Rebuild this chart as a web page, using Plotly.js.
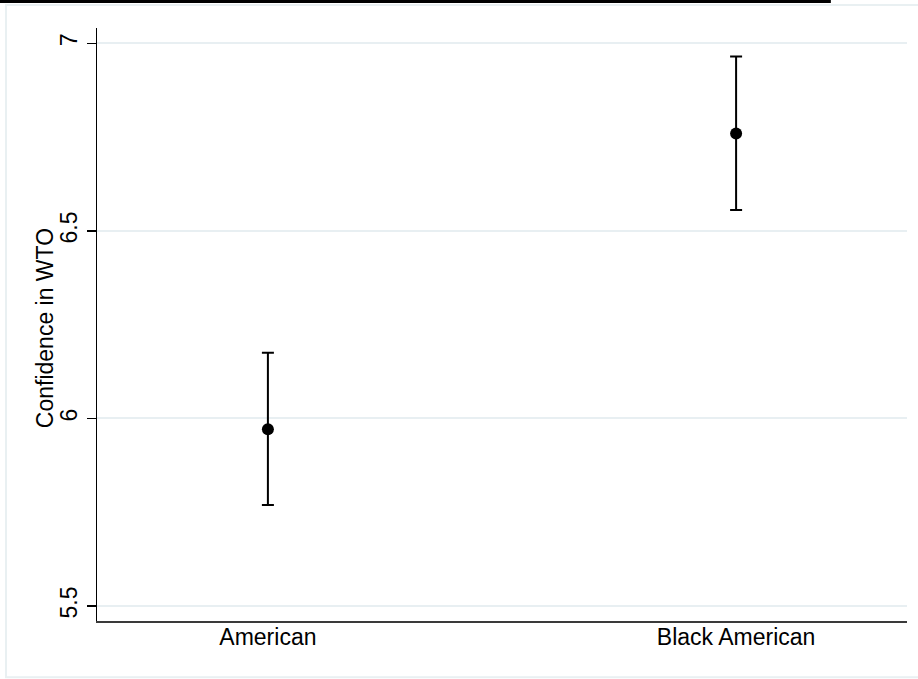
<!DOCTYPE html>
<html>
<head>
<meta charset="utf-8">
<script src="https://cdn.plot.ly/plotly-3.0.1.min.js"></script>
<style>
  html, body { margin: 0; padding: 0; background: #ffffff; }
  #chart { width: 918px; height: 679px; }
</style>
</head>
<body>
<div id="chart"></div>
<script>
// Group means of confidence in the WTO with 95% confidence intervals
const categories = ['American', 'Black American'];
const means = [5.971, 6.760];
const ciLow = [5.769, 6.556];
const ciHigh = [6.175, 6.965];
const yTicks = [5.5, 6, 6.5, 7];
const yTickText = ['5.5', '6', '6.5', '7'];
const yTitle = 'Confidence in WTO';

const errPlus = ciHigh.map((h, i) => h - means[i]);
const errMinus = ciLow.map((l, i) => means[i] - l);

const font = 'Liberation Sans, Arial, Helvetica, sans-serif';
const gridColor = '#e8eff2';
const fs = 23;

const trace = {
  type: 'scatter',
  mode: 'markers',
  x: categories,
  y: means,
  marker: { color: '#000000', size: 12, symbol: 'circle' },
  error_y: {
    type: 'data',
    symmetric: false,
    array: errPlus,
    arrayminus: errMinus,
    color: '#000000',
    thickness: 2,
    width: 6
  },
  hoverinfo: 'skip',
  showlegend: false
};

const layout = {
  width: 918,
  height: 679,
  margin: { l: 97, r: 11, t: 28, b: 58, pad: 0 },
  paper_bgcolor: '#ffffff',
  plot_bgcolor: '#ffffff',
  font: { family: font, size: fs, color: '#000000' },
  xaxis: {
    type: 'category',
    range: [-0.365, 1.365],
    showgrid: false,
    zeroline: false,
    showline: true,
    linecolor: '#3a3a3a',
    linewidth: 2,
    ticks: '',
    ticklabelstandoff: -6,
    tickfont: { family: font, size: fs, color: '#000000' },
    fixedrange: true
  },
  yaxis: {
    range: [5.46, 7.041],
    tickvals: yTicks,
    ticktext: yTickText,
    tickangle: -90,
    ticks: 'outside',
    ticklen: 9,
    tickwidth: 1.5,
    tickcolor: '#000000',
    showgrid: true,
    gridcolor: gridColor,
    gridwidth: 2,
    zeroline: false,
    showline: true,
    linecolor: '#000000',
    linewidth: 1.5,
    tickfont: { family: font, size: fs, color: '#000000' },
    fixedrange: true
  },
  annotations: [
    // y-axis title, set in place as rotated text
    {
      text: yTitle, xref: 'paper', yref: 'paper',
      x: -0.0642, y: 0.4938, xanchor: 'center', yanchor: 'middle',
      textangle: -90, showarrow: false,
      font: { family: font, size: fs, color: '#000000' }
    }
  ],
  shapes: [
    // light outer frame of the graph region
    {
      type: 'rect', xref: 'paper', yref: 'paper',
      x0: -0.1123, x1: 1.03, y0: -0.095, y1: 1.0388,
      line: { color: '#e9f0f2', width: 2 },
      fillcolor: 'rgba(0,0,0,0)', layer: 'below'
    },
    // dark rule running along the top edge
    {
      type: 'line', xref: 'paper', yref: 'paper',
      x0: -0.125, x1: 0.906, y0: 1.0448, y1: 1.0448,
      line: { color: '#000000', width: 3 }
    }
  ]
};

Plotly.newPlot('chart', [trace], layout, { displayModeBar: false, staticPlot: true });
</script>
</body>
</html>
